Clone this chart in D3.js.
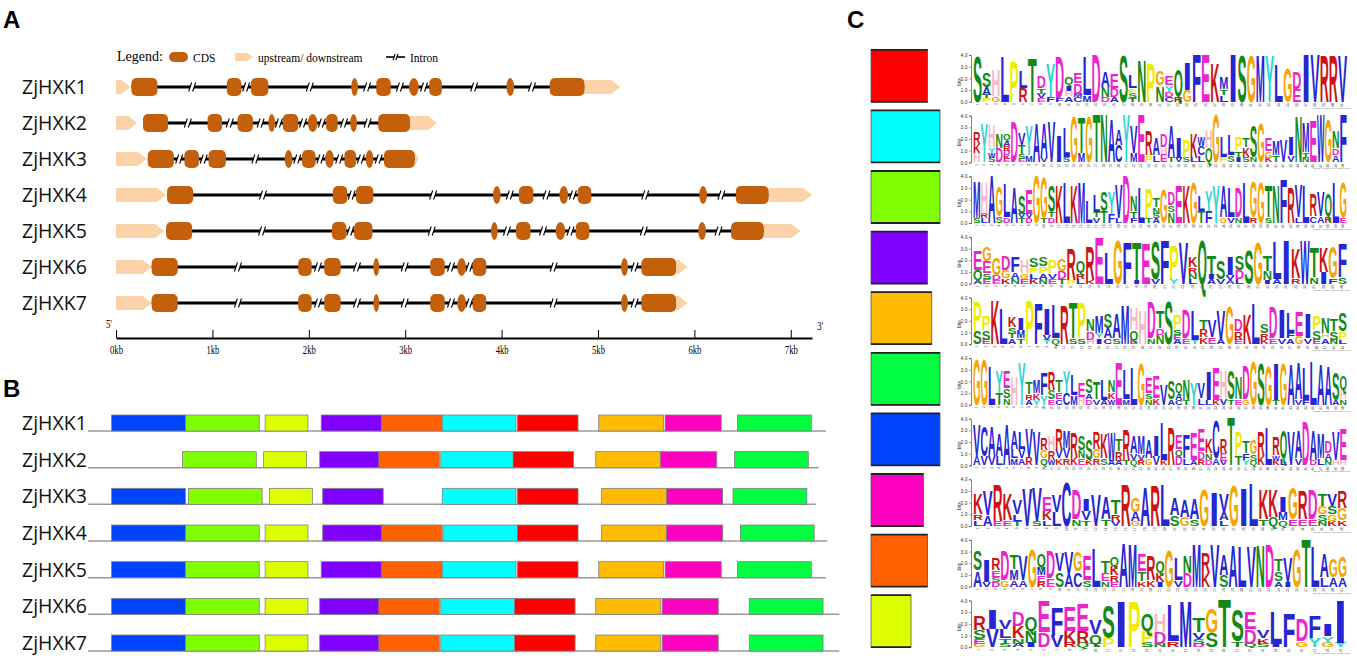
<!DOCTYPE html>
<html><head><meta charset="utf-8">
<script src="https://cdn.jsdelivr.net/npm/d3@7"></script>
<style>body{margin:0;background:#fff}</style>
</head><body><svg id="c" width="1357" height="659"></svg>
<script>
// ---------------- DATA ----------------
const genes = ["ZjHXK1","ZjHXK2","ZjHXK3","ZjHXK4","ZjHXK5","ZjHXK6","ZjHXK7"];
// panel A (kb)
const upstream = [[0,0.15],[0,0.22],[0,0.32],[0,0.52],[0,0.50],[0,0.37],[0,0.37]];
const downstream = [[4.86,5.23],[3.05,3.33],[3.10,3.14],[6.77,7.22],[6.72,7.10],[5.81,5.93],[5.81,5.93]];
const cdsKb = [
  [[0.16,0.43],[1.15,1.30],[1.40,1.58],[2.44,2.51],[2.70,2.85],[3.04,3.14],[3.25,3.38],[4.05,4.13],[4.50,4.86]],
  [[0.28,0.54],[0.95,1.10],[1.26,1.42],[1.58,1.65],[1.73,1.89],[1.99,2.09],[2.18,2.30],[2.43,2.50],[2.72,3.05]],
  [[0.33,0.60],[0.71,0.86],[0.96,1.14],[1.75,1.83],[1.93,2.07],[2.17,2.26],[2.37,2.49],[2.59,2.67],[2.78,3.10]],
  [[0.53,0.80],[2.25,2.40],[2.49,2.67],[3.91,3.99],[4.18,4.33],[4.60,4.69],[4.79,4.93],[6.05,6.13],[6.43,6.77]],
  [[0.52,0.79],[2.24,2.39],[2.47,2.66],[3.89,3.96],[4.15,4.30],[4.56,4.66],[4.77,4.91],[6.04,6.12],[6.38,6.72]],
  [[0.37,0.64],[1.89,2.03],[2.16,2.33],[2.67,2.73],[3.26,3.41],[3.54,3.63],[3.70,3.84],[5.24,5.31],[5.45,5.81]],
  [[0.37,0.64],[1.89,2.03],[2.16,2.33],[2.67,2.73],[3.26,3.41],[3.54,3.63],[3.70,3.84],[5.24,5.31],[5.45,5.81]]
];
const kbTicks = [0,1,2,3,4,5,6,7];
const legendLabels = ["Legend:","CDS","upstream/ downstream","Intron"];
// panel B (aa); motif index 1..10
const motifColors = ["#FF0000","#00FFFF","#80FF00","#8000FF","#FFBB00","#00FF40","#0044FF","#FF00C0","#FF6000","#DDFF00"];
const motifWidths = [41,50,50,41,44,50,50,38,41,29];
const proteinLengths = [500,495,493,501,500,509,509];
const motifStarts = [
  [[7,16],[3,66],[10,120],[4,158],[9,199],[2,240],[1,291],[5,346],[8,391],[6,440]],
  [[3,64],[10,119],[4,157],[9,197],[2,239],[1,288],[5,344],[8,388],[6,438]],
  [[7,16],[3,68],[10,123],[4,159],[2,240],[1,291],[5,348],[8,392],[6,437]],
  [[7,16],[3,66],[10,120],[4,159],[9,199],[2,241],[1,291],[5,348],[8,392],[6,442]],
  [[7,16],[3,66],[10,120],[4,158],[9,199],[2,240],[1,291],[5,346],[8,391],[6,440]],
  [[7,16],[3,66],[10,120],[4,157],[9,197],[2,239],[1,289],[5,344],[8,389],[6,448]],
  [[7,16],[3,66],[10,120],[4,157],[9,197],[2,239],[1,289],[5,344],[8,389],[6,448]]
];
// panel C: logo columns, letters bottom->top with height in bits
const logo1 = ["S4","P.3T.3A.7S1.2","G.5H2.3","L4","P3.6","R1.2L1.5","T3.9","E.3V.4T.5D1.0","F.4Y3.0","F.3D3.7","A.5H.4I.5Q.7","C.4M.3D.9E.9","M.6L3.4","D4.2","D.4N.9A1.4","A.4D.8E1.3","S4.1","T.3S.4P.5L1.1","N3.7","P3.5","N1.4G1.2","C.4D.4Y.6E.8","R.5Q2.3","G1.0I2.4","F4.2","E4.2","K3.4","L.6T.5M1.0","I4.2","S4.1","G4.1","M4.1","Y4.1","L3.3","G3.0","E1.1D1.5","I4.2","V4.2","R4.1","R4.1","V4.1"];
const logo2 = ["H.8K.8R1.0","Y3.4","S.4W.4Y.5H2.0","D1.2N1.2","E.3K.3D.4R.4A.5Q.6","D3.6","E.3S.4T.8V1.0","M.6Y2.6","A3.5","V.5A3.0","V3.6","I2.3","S.5L2.6","G4.0","M.8T3.1","G4.0","T4.2","N4.2","A3.8","C1.5A1.4","Y4.2","M.8V2.4","E4.2","P.6R2.2","L.6A1.5","E.7H.6D1.1","T.5A2.8","V.4I1.8","S.4P1.6","L.4K2.2","L.6C.8W.8","Q1.2H1.6","G4.2","P.5L1.8","S.6L1.8","I.4T.6P1.2","S.5K.8T.8","N.5S2.8","G3.5","K.4G.6E1.1","T.6M1.3","V2.0","V.6I1.6","N4.0","N.4T.5M2.6","E3.7","W4.2","G3.8","A.6D.6N1.5","F4.3"];
const logo3 = ["S.4M3.2","L.4R.4H2.7","A4.2","S.6G2.6","D.5L3.0","A3.1","T.4V.4S1.6","D.4V.4E2.2","G4.2","T.4G3.6","D.5T.4S2.3","K3.3","L3.6","K3.3","M3.6","L1.9","V.5T.4L1.5","T1.0S1.7","F.8Y2.0","L.4V3.0","D4.2","F.4T.6N1.4","L3.1","T.4P2.6","A.4S.4N.6T.8","G3.0","N.9S.6D1.1","E3.3","K3.3","G3.6","T1.0L1.4","F1.0Y1.8","Y3.3","G.5A2.8","V.5L2.6","N.5D2.6","L3.6","R.5G3.1","G3.6","S.5T2.7","N3.3","F3.9","R3.1","L.5V2.9","L3.3","C.6R2.0","A.6V2.2","R.6Q2.0","L3.6","E.4G3.1"];
const logo4 = ["A.3Q.9E1.7","E.4S.5E1.0G1.3","E.3D.4G1.5","K.5G.7D1.3","N.4A.6F1.4","E.4G.5H1.1","K.4L.5P.5S.8","N.4A.5P.6S.8","E.4V.5P1.1","T.4D.7G1.0","P.3R2.8","L.4R.5Q1.0","K.3R3.0","E4.1","L2.7","G3.9","F3.7","I.3T3.3","E3.6","V.4S3.3","F3.9","Y.4P3.0","V3.7","L.4N.4R.6K.9","Q3.9","A.4I.4T1.6","V.4S1.6","A.3V.4I1.6","L.4D.8S1.2","S3.0","G3.7","I.3N.8T1.4","A.4L3.3","I3.9","R.5K2.6","W3.9","N.6T2.6","I1.0K2.2","F.5G2.7","S.6F3.0"];
const logo5 = ["S1.1P2.6","E.4S.8P1.2","K3.9","L3.1","A.5T.4S.6K.9","T.5M.7I1.0","P3.9","F3.6","Y.4V.4I2.3","Q.5L3.0","R3.4","S.5T3.1","S.5P3.1","H.4D.7N1.0","I.5Y.5M1.5","C.5A.9S1.3","S.5A2.2","M3.4","E.4Q.8H2.0","H3.0","N.5D3.2","N.8D.6T1.5","S3.8","A.4E.4S.5P1.2","E.5D2.5","Y.4L2.6","K.6R.7T.8","E.6V1.5","A.4V2.6","G3.3","E.4R.7D1.0","K2.6","L3.6","K.4R.6S.8","E.5D2.8","V.5I2.5","A.5F.5L1.8","G.7E2.2","V.5I2.2","E.4S.8P1.2","A.5H.5N1.4","N.4S.7T1.0","L.4P.7S1.6"];
const logo6 = ["G4.0","G4.0","L3.5","T1.0Y2.0","N.6S.8E1.5","H2.5","Y3.8","A.4R.5T1.0","Y.4K.6M1.1","Y.8F2.0","E.5S.8R1.6","C.5E.6T1.0","C1.0Y2.0","M.8L1.8","H.7E1.3","D.5A.5S1.3","V.5T1.5","A.4L1.8","W.5K.6N1.0","E3.8","M.5L2.6","L3.3","G3.7","N.5S.5E1.4","K.6E2.0","V1.8","A.5S1.6","C.4A.6Q.9","T.4N1.8","Y2.0","L.6V1.4","L.4I2.5","K.4E2.9","V.6H2.4","T.5S2.5","E.5N2.0","G.5D3.0","G3.9","S3.7","G3.5","T.4I3.2","G3.7","A3.6","V.5A3.2","F.4L2.9","L3.9","A3.6","A3.4","A.4S2.4","N.5H.8Q1.2"];
const logo7 = ["A.8V2.7","V.8C2.6","V.8A2.6","L.8A2.0","A3.6","M.6L.8A1.6","A.6V.8L1.5","R.7V2.5","V3.0","Q.6G.7R1.0","W.5R.8H1.2","K.6V.8R1.8","R.6V.9M1.5","K.7R2.2","E.6N.7S1.3","K.5S1.8","R.6G.8R1.5","S.6K2.2","A.4W2.5","A.4R.8T1.0","T.4R2.7","Q.5V.6A1.5","R.5V.5M1.6","G.6A1.6","V.8I1.8","K.5L3.3","R3.3","D.8Q.6E1.3","L.6F2.1","A.5E2.4","R.5D.7E1.9","D.5N.6K1.3","A.6C3.3","V.4E.7R1.2","T4.2","T.8P2.2","Y.5F.6T1.0","Q.4S.6G1.2","K.8R2.2","L3.3","K.4W.5R1.6","L.6Q2.4","V3.0","V.6A2.4","D3.9","D.5A2.6","L.6M2.2","N.5A.6D1.0","H.5V2.5","H.5E2.8"];
const logo8 = ["L.5R.5K1.8","A.9V2.2","E.4R3.2","E.5K2.3","T.4L.6V1.2","V3.3","S.4V3.0","L.5K.8E1.2","L1.2V1.5","C3.9","N.6D2.6","T.5V.8I1.0","V2.8","T.6A2.0","V.4R.6T1.2","R3.7","G.4A.8G1.2","A3.4","R3.6","L3.7","S.9A1.5","G.8A1.5","S.6A1.8","G3.2","I3.0","L.5A.7V1.6","G3.6","I3.3","L3.8","T.6K2.6","Q.8K2.4","Q.5M.7I1.4","E.6G2.8","E.6R2.5","E.6D2.6","N.4S.6G.7T1.0","K.4G.6S.7V1.0","K.5G1.0R1.5"];
const logo9 = ["A1.4S1.7","V.4I2.0","D.4S.4E.6R1.0","G.6D2.6","A.6M.9T1.3","A.6V2.2","G3.3","R.4E.6M.7Q1.1","E.7D2.4","S1.3V1.6","A1.1V1.9","C1.3G1.7","S.6E2.2","L3.4","N.5E.7T1.0","E.4R.6K.8Q.8","A3.9","M3.8","K.5T.8E1.5","K.6R2.2","I.4K.8Q1.0","G3.2","V.6L2.0","D1.2N1.5","M3.8","K1.2R1.8","V3.8","S1.0A1.8","A3.7","L3.6","V3.6","N3.7","D3.8","A.5S.8T1.0","I.4V2.2","G3.3","T4.2","L3.6","L.8A2.1","A.8G1.6","A.8G1.8"];
const logo10 = ["G.3E.4S.8R1.2","V1.6I1.7","S.3T.5L.8V.8","A.3N.5K1.0D1.2","I.4N1.0Q1.2","D1.3E2.8","V1.0F2.5","R.4K1.0E2.2","Q.4R1.0E2.4","T.3Q.8V1.2","P.8S2.9","I4.0","P4.0","S.4P1.0Q1.5","N.3D1.0H1.6","R.5L3.2","M4.0","D.3S.4V.6T1.2","S1.2G2.2","T4.2","T.5S2.8","Q.3D1.3E1.5","S.3K.5V.7","I.3L2.9","F3.0","G.5D2.0","Y.8F2.0","G.4Y.6I1.0","Y.4I3.8"];
const bitTicks = [0,1,2,3,4];
const aaBlue = "ACFILVWM", aaGreen = "NQST", aaMag = "DE", aaRed = "KR";

// ---------------- DRAW ----------------
const svg = d3.select("#c");
svg.append("rect").attr("width",1357).attr("height",659).attr("fill","#fff");
const sans = "'Liberation Sans', Arial, sans-serif";
const serif = "'Liberation Serif', 'Times New Roman', serif";
const labelFont = "'Open Sans', 'Noto Sans', sans-serif";
const CDS_COL = "#C4600C", UTR_COL = "#FCD2A8";

// panel letters
[["A",3,28],["B",3,397],["C",847,28]].forEach(([t,x,y]) =>
  svg.append("text").attr("x",x).attr("y",y).text(t)
    .attr("font-family",sans).attr("font-weight","bold").attr("font-size",24).attr("fill","#000"));

// ----- Panel A -----
const xA = d3.scaleLinear().domain([0,7.22]).range([116,812]);
const rowA = i => 87 + i*36;

function arrowPath(x0,x1,y,h,tip){
  const t = Math.min(tip, x1-x0);
  return `M${x0},${y-h/2}L${x1-t},${y-h/2}L${x1},${y}L${x1-t},${y+h/2}L${x0},${y+h/2}Z`;
}
function drawBreak(g,cx,cy,s){
  s = s||1;
  g.append("path").attr("d",`M${cx-3.2*s},${cy+2.2}L${cx-0.8*s},${cy-2.2}L${cx+3.2*s},${cy-2.2}L${cx+0.8*s},${cy+2.2}Z`).attr("fill","#fff");
  g.append("line").attr("x1",cx-3.5*s).attr("y1",cy+4.5*s).attr("x2",cx-0.5*s).attr("y2",cy-4.5*s).attr("stroke","#000").attr("stroke-width",1.1);
  g.append("line").attr("x1",cx+0.5*s).attr("y1",cy+4.5*s).attr("x2",cx+3.5*s).attr("y2",cy-4.5*s).attr("stroke","#000").attr("stroke-width",1.1);
}
function drawCDS(g,x0,x1,y,h){
  const w = x1-x0;
  let rx, ry;
  if (w < 11){ rx = w/2; ry = h/2; } else { rx = Math.min(5,w/2); ry = 5; }
  g.append("rect").attr("x",x0).attr("y",y-h/2).attr("width",w).attr("height",h)
    .attr("rx",rx).attr("ry",ry).attr("fill",CDS_COL);
}

// legend
const lg = svg.append("g");
lg.append("text").attr("x",117).attr("y",61).text(legendLabels[0]).attr("font-family",serif).attr("font-size",14);
drawCDS(lg,169,188,57,10);
lg.append("text").attr("x",193).attr("y",62).text(legendLabels[1]).attr("font-family",serif).attr("font-size",11.5);
lg.append("path").attr("d",arrowPath(235,253,57,8,6)).attr("fill",UTR_COL);
lg.append("text").attr("x",258).attr("y",62).text(legendLabels[2]).attr("font-family",serif).attr("font-size",11.5);
lg.append("line").attr("x1",386).attr("x2",405).attr("y1",57).attr("y2",57).attr("stroke","#000").attr("stroke-width",1.6);
drawBreak(lg,395.5,57,0.7);
lg.append("text").attr("x",410).attr("y",62).text(legendLabels[3]).attr("font-family",serif).attr("font-size",11.5);

genes.forEach((name,i) => {
  const y = rowA(i);
  const g = svg.append("g");
  g.append("text").attr("x",22).attr("y",y+7).text(name)
    .attr("font-family",labelFont).attr("font-size",19.5).attr("fill","#111");
  const c = cdsKb[i];
  g.append("line").attr("x1",xA(c[0][0])).attr("x2",xA(c[c.length-1][1]))
    .attr("y1",y).attr("y2",y).attr("stroke","#000").attr("stroke-width",3);
  for (let k=0;k<c.length-1;k++) drawBreak(g, xA((c[k][1]+c[k+1][0])/2), y);
  g.append("path").attr("d",arrowPath(xA(upstream[i][0]),xA(upstream[i][1]),y,14,9)).attr("fill",UTR_COL);
  g.append("path").attr("d",arrowPath(xA(downstream[i][0]),xA(downstream[i][1]),y,14,9)).attr("fill",UTR_COL);
  c.forEach(d => drawCDS(g,xA(d[0]),xA(d[1]),y,18));
});

const axA = svg.append("g").attr("transform","translate(0,338)")
  .call(d3.axisBottom(xA).tickValues(kbTicks).tickFormat(d=>d+"kb").tickSizeInner(-8).tickSizeOuter(0).tickPadding(7));
axA.select(".domain").attr("stroke","#000").attr("stroke-width",2);
axA.selectAll(".tick line").attr("stroke","#000").attr("stroke-width",1);
axA.selectAll(".tick text").attr("font-family",serif).attr("font-size",12).attr("fill","#000")
  .attr("transform","scale(0.72,1)");
svg.append("text").attr("x",106).attr("y",328).text("5'").attr("font-family",serif).attr("font-size",12).attr("transform","translate(29.7,0) scale(0.72,1)");
svg.append("text").attr("x",1135).attr("y",330).text("3'").attr("font-family",serif).attr("font-size",12).attr("transform","scale(0.72,1)");

// ----- Panel B -----
const xB = d3.scaleLinear().domain([0,500]).range([88,826]);
const rowB = i => 415 + i*36.67;
genes.forEach((name,i) => {
  const top = rowB(i);
  const g = svg.append("g");
  g.append("text").attr("x",22).attr("y",top+15).text(name)
    .attr("font-family",labelFont).attr("font-size",19.5).attr("fill","#111");
  g.append("line").attr("x1",xB(0)).attr("x2",xB(proteinLengths[i])).attr("y1",top+16).attr("y2",top+16)
    .attr("stroke","#9a9a9a").attr("stroke-width",1.5);
  motifStarts[i].forEach(([m,s]) => {
    g.append("rect").attr("x",xB(s)).attr("y",top).attr("width",xB(s+motifWidths[m-1])-xB(s)).attr("height",16)
      .attr("fill",motifColors[m-1]).attr("stroke","#808080").attr("stroke-width",0.8);
  });
});

// ----- Panel C -----
const logos = [logo1,logo2,logo3,logo4,logo5,logo6,logo7,logo8,logo9,logo10];
const xC = d3.scaleLinear().domain([0,50]).range([871,940]);
const baseC = i => 101.8 + i*60.6;
function aaColor(a){
  if (aaBlue.includes(a)) return "#2626D2";
  if (aaGreen.includes(a)) return "#138A17";
  if (aaMag.includes(a)) return "#EC24CC";
  if (aaRed.includes(a)) return "#CC1414";
  if (a==="H") return "#F8B9C6";
  if (a==="G") return "#F5A400";
  if (a==="P") return "#F0EC00";
  if (a==="Y") return "#2ED6D6";
  return "#000";
}
const meas = svg.append("text").attr("font-family",sans).attr("font-weight","bold").attr("font-size",100);
const adv = {};
"ACDEFGHIKLMNPQRSTVWY".split("").forEach(a => { meas.text(a); adv[a] = meas.node().getComputedTextLength(); });
meas.remove();
const CAP = 72.5;

logos.forEach((cols,i) => {
  const base = baseC(i);
  const g = svg.append("g");
  // motif box
  const bx = g.append("g");
  bx.append("rect").attr("x",xC(0)).attr("y",base-52).attr("width",xC(motifWidths[i])-xC(0)).attr("height",52)
    .attr("fill",motifColors[i]).attr("stroke","#555").attr("stroke-width",0.8);
  bx.append("line").attr("x1",xC(0)).attr("x2",xC(motifWidths[i])).attr("y1",base-52).attr("y2",base-52).attr("stroke","#222").attr("stroke-width",1.8);
  bx.append("line").attr("x1",xC(0)).attr("x2",xC(motifWidths[i])).attr("y1",base).attr("y2",base).attr("stroke","#222").attr("stroke-width",1.8);
  const yb = d3.scaleLinear().domain([0,4]).range([base, base-46.7]);
  const xl = d3.scaleLinear().domain([0,cols.length]).range([973,1347]);
  const colW = xl(1)-xl(0);
  const ax = g.append("g").attr("transform","translate(971,0)")
    .call(d3.axisLeft(yb).tickValues(bitTicks).tickSize(2).tickPadding(1.5));
  ax.select(".domain").attr("stroke","#333").attr("stroke-width",0.6);
  ax.selectAll(".tick line").attr("stroke","#333").attr("stroke-width",0.5);
  ax.selectAll(".tick text").attr("font-size",5).attr("font-family",sans).attr("fill","#333");
  g.append("text").attr("transform",`translate(961,${base-20}) rotate(-90)`).attr("text-anchor","middle")
    .text("bits").attr("font-family",sans).attr("font-size",5).attr("fill","#333");
  cols.forEach((col,j) => {
    let cum = 0;
    const re = /([A-Z])(\d*\.?\d+)/g; let m;
    while ((m = re.exec(col)) !== null){
      const a = m[1], v = parseFloat(m[2]);
      const y0 = yb(cum), y1 = yb(cum+v), h = y0-y1;
      g.append("text").text(a).attr("font-family",sans).attr("font-weight","bold").attr("font-size",100)
        .attr("fill",aaColor(a))
        .attr("transform",`translate(${xl(j)},${y0}) scale(${colW/adv[a]},${h/CAP})`);
      cum += v;
    }
    g.append("text").attr("transform",`translate(${xl(j+0.5)+1},${base+1.5}) rotate(-90)`).attr("text-anchor","end")
      .text(j+1).attr("font-family",sans).attr("font-size",3.2).attr("fill","#444");
  });
  g.append("text").attr("x",1350).attr("y",base+7).attr("text-anchor","end")
    .text("MEME (no SSC) 15.04.2022 10:21").attr("font-family",sans).attr("font-size",2.4).attr("fill","#777");
});
</script></body></html>
